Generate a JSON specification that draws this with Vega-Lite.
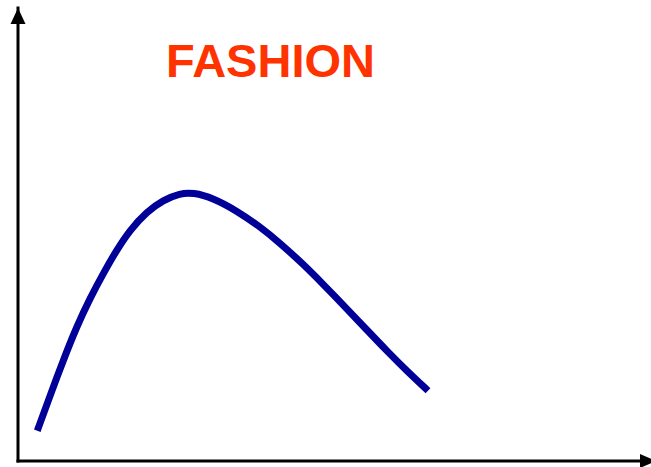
{
  "$schema": "https://vega.github.io/schema/vega-lite/v6.json",
  "autosize": "none",
  "width": 633,
  "height": 453,
  "padding": {"left": 18, "top": 8, "right": 0, "bottom": 6},
  "background": "white",
  "config": {"view": {"stroke": null}},
  "datasets": {
    "curve": [
      {"t": 3.05, "v": 6.69},
      {"t": 4.63, "v": 12.74},
      {"t": 7.16, "v": 22.30},
      {"t": 9.27, "v": 29.65},
      {"t": 11.37, "v": 35.92},
      {"t": 13.48, "v": 41.43},
      {"t": 15.59, "v": 46.58},
      {"t": 17.69, "v": 50.99},
      {"t": 20.33, "v": 55.03},
      {"t": 22.95, "v": 57.62},
      {"t": 25.59, "v": 59.09},
      {"t": 27.65, "v": 59.27},
      {"t": 30.81, "v": 58.06},
      {"t": 34.60, "v": 55.19},
      {"t": 38.23, "v": 51.72},
      {"t": 41.39, "v": 48.12},
      {"t": 45.02, "v": 43.49},
      {"t": 48.18, "v": 39.07},
      {"t": 51.98, "v": 33.55},
      {"t": 55.13, "v": 28.92},
      {"t": 58.29, "v": 24.28},
      {"t": 61.45, "v": 19.87},
      {"t": 64.77, "v": 15.52}
    ],
    "arrows": [
      {"axis": "y", "t": 0, "v": 100},
      {"axis": "x", "t": 100.79, "v": 0}
    ],
    "label": [
      {"text": "FASHION", "t": 39.89, "v": 84.77}
    ]
  },
  "layer": [
    {
      "data": {"name": "curve"},
      "mark": {"type": "line", "color": "#000099", "strokeWidth": 7, "interpolate": "basis", "strokeCap": "butt"},
      "encoding": {
        "x": {"field": "t", "type": "quantitative", "scale": {"domain": [0, 100], "nice": false, "zero": false},
          "axis": {"domain": true, "domainColor": "black", "domainWidth": 3, "domainCap": "square", "ticks": false, "labels": false, "grid": false, "title": null, "translate": 0}},
        "y": {"field": "v", "type": "quantitative", "scale": {"domain": [0, 100], "nice": false, "zero": false},
          "axis": {"domain": true, "domainColor": "black", "domainWidth": 3, "domainCap": "square", "ticks": false, "labels": false, "grid": false, "title": null, "translate": 0}}
      }
    },
    {
      "data": {"name": "arrows"},
      "mark": {"type": "point", "filled": true, "color": "black", "opacity": 1, "size": 256, "strokeWidth": 0},
      "encoding": {
        "x": {"field": "t", "type": "quantitative"},
        "y": {"field": "v", "type": "quantitative"},
        "shape": {"field": "axis", "type": "nominal", "legend": null,
          "scale": {"domain": ["y", "x"], "range": ["M0,0L0.9375,2L-0.9375,2Z", "M0,0L-2,-0.875L-2,0.875Z"]}}
      }
    },
    {
      "data": {"name": "label"},
      "mark": {"type": "text", "font": "Liberation Sans", "fontWeight": "bold", "fontSize": 47, "color": "#FF3300", "align": "center", "baseline": "alphabetic"},
      "encoding": {
        "x": {"field": "t", "type": "quantitative"},
        "y": {"field": "v", "type": "quantitative"},
        "text": {"field": "text"}
      }
    }
  ]
}
